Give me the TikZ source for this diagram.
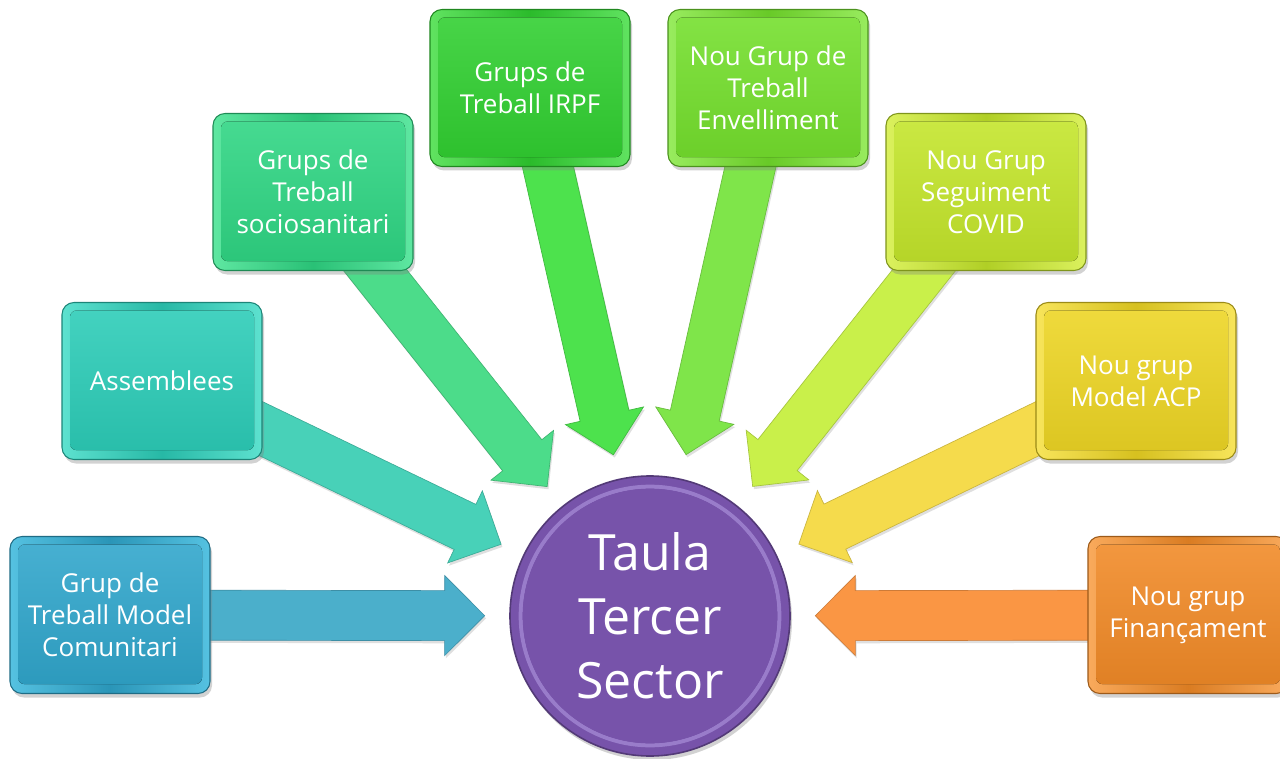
\documentclass[tikz,border=0pt]{standalone}
\usepackage{fontspec}
\setmainfont{Open Sans}
\usetikzlibrary{calc,shadows}
\pgfdeclarelayer{bg}
\pgfsetlayers{bg,main}
\definecolor{bxa}{HTML}{2FA6CC}\definecolor{lxa}{HTML}{74D8F2}\definecolor{ara}{HTML}{4BAFCB}
\definecolor{bxb}{HTML}{2BCDB8}\definecolor{lxb}{HTML}{86F2E2}\definecolor{arb}{HTML}{48D1B8}
\definecolor{bxc}{HTML}{2ED683}\definecolor{lxc}{HTML}{86F5BA}\definecolor{arc}{HTML}{4CDC8A}
\definecolor{bxd}{HTML}{30D030}\definecolor{lxd}{HTML}{88F288}\definecolor{ard}{HTML}{4DE24D}
\definecolor{bxe}{HTML}{74E02C}\definecolor{lxe}{HTML}{B6F588}\definecolor{are}{HTML}{7FE54A}
\definecolor{bxf}{HTML}{C4E62A}\definecolor{lxf}{HTML}{EEFA88}\definecolor{arf}{HTML}{C9F04A}
\definecolor{bxg}{HTML}{EED623}\definecolor{lxg}{HTML}{FFF088}\definecolor{arg}{HTML}{F5DB4C}
\definecolor{bxh}{HTML}{F28A26}\definecolor{lxh}{HTML}{FFC488}\definecolor{arh}{HTML}{FA9644}
\definecolor{purp}{HTML}{7753AA}\definecolor{purpl}{HTML}{A88ED8}
\tikzset{
  grpbox/.style 2 args={rounded corners=9pt, minimum width=150pt, minimum height=117.75pt,
    inner sep=0pt, align=center, text=white, font=\fontsize{19.5}{24}\selectfont,
    draw=#1!65!black, line width=0.8pt, left color=#2!55!#1, right color=#2!55!#1, middle color=#1!90!black,
    drop shadow={opacity=0.35, shadow xshift=1.5pt, shadow yshift=-3pt},
    path picture={\fill[rounded corners=5pt, top color=#1!88!white, bottom color=#1!92!black]
      ([shift={(6pt,-6pt)}]path picture bounding box.north west) rectangle
      ([shift={(-6pt,7pt)}]path picture bounding box.south east);}},
  hubnode/.style={circle, minimum size=210pt, inner sep=0pt, fill=purp,
    draw=purp!70!black, line width=1.2pt, text=white, align=center,
    font=\fontsize{37.5}{48}\selectfont,
    drop shadow={opacity=0.35, shadow xshift=1.5pt, shadow yshift=-3pt},
    path picture={\draw[purpl, line width=3pt, opacity=0.7]
      (path picture bounding box.center) circle (97pt);
      \fill[purp] (path picture bounding box.center) circle (95.5pt);}},
  arrowfill/.style={fill=#1, draw=#1!82!black, line width=0.5pt,
    drop shadow={opacity=0.25, shadow xshift=1pt, shadow yshift=-2pt}}
}
\newcommand\blockarr[3]{%
  \coordinate (hb) at ($(#2.center)!154pt!(#1.center)$);
  \coordinate (tp) at ($(#2.center)!124pt!(#1.center)$);
  \path[arrowfill=#3]
    ($(#1.center)!18.75pt!90:(#2.center)$) -- ($(hb)!18.75pt!90:(tp)$) --
    ($(hb)!30pt!90:(tp)$) -- (tp) -- ($(hb)!30pt!-90:(tp)$) --
    ($(hb)!18.75pt!-90:(tp)$) -- ($(#1.center)!18.75pt!-90:(#2.center)$) -- cycle;
}
\begin{document}
\begin{tikzpicture}[x=0.75pt,y=-0.75pt]
\useasboundingbox (0,0) rectangle (1280,759);
\node[grpbox={bxa}{lxa}] (g1) at (110,615) {Grup de\\Treball Model\\Comunitari};
\node[grpbox={bxb}{lxb}] (g2) at (162,381) {Assemblees};
\node[grpbox={bxc}{lxc}] (g3) at (313,192) {Grups de\\Treball\\sociosanitari};
\node[grpbox={bxd}{lxd}] (g4) at (530,88) {Grups de\\Treball IRPF};
\node[grpbox={bxe}{lxe}] (g5) at (768,88) {Nou Grup de\\Treball\\Envelliment};
\node[grpbox={bxf}{lxf}] (g6) at (986,192) {Nou Grup\\Seguiment\\COVID};
\node[grpbox={bxg}{lxg}] (g7) at (1136,381) {Nou grup\\Model ACP};
\node[grpbox={bxh}{lxh}] (g8) at (1188,615) {Nou grup\\Finançament};
\node[hubnode] (hub) at (650,616) {Taula\\Tercer\\Sector};
\begin{pgfonlayer}{bg}
\fill[white] (0,0) rectangle (1280,759);
\blockarr{g1}{hub}{ara}
\blockarr{g2}{hub}{arb}
\blockarr{g3}{hub}{arc}
\blockarr{g4}{hub}{ard}
\blockarr{g5}{hub}{are}
\blockarr{g6}{hub}{arf}
\blockarr{g7}{hub}{arg}
\blockarr{g8}{hub}{arh}
\end{pgfonlayer}
\end{tikzpicture}
\end{document}
